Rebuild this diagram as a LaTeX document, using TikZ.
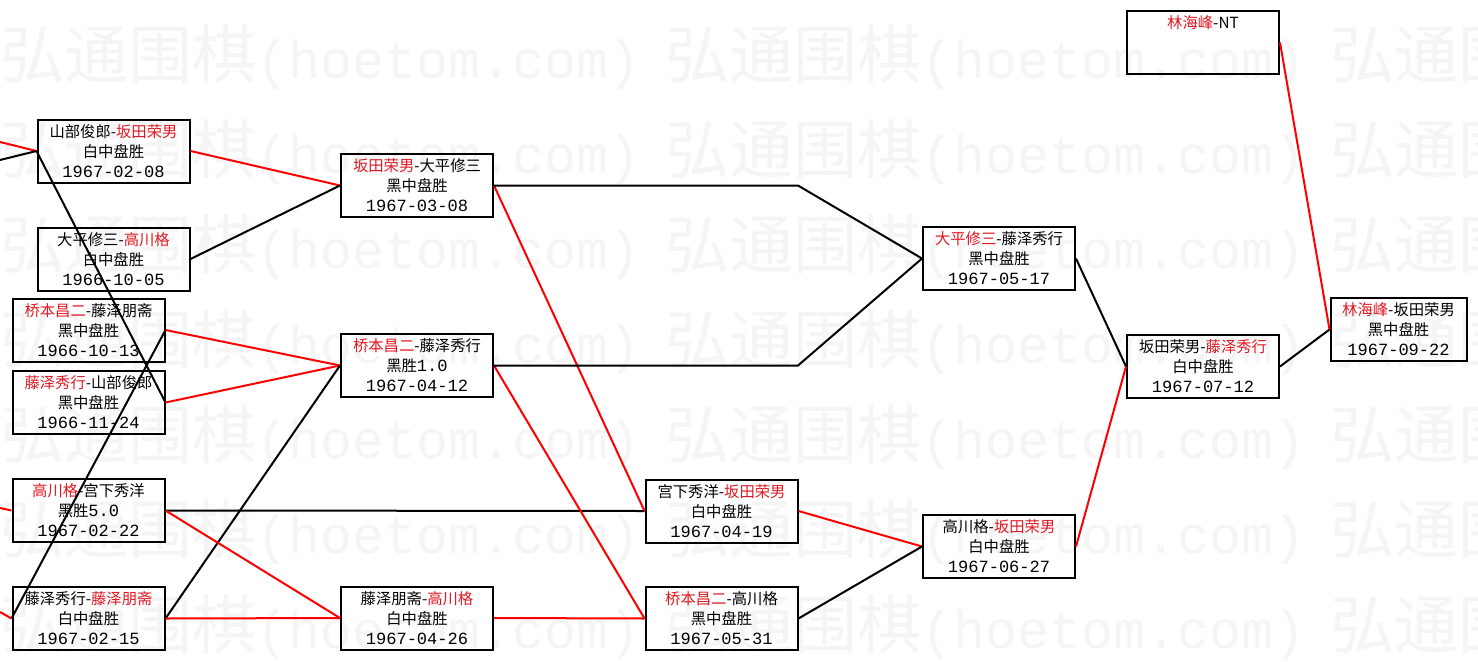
\documentclass[tikz,border=0pt]{standalone}
\usepackage{fontspec}
\newfontfamily\cjk{Noto Sans CJK SC}
\newfontfamily\mono{Liberation Mono}
\definecolor{lred}{RGB}{255,0,0}
\definecolor{tred}{RGB}{225,25,35}
\definecolor{wm}{RGB}{245,245,245}
\newcommand\rn[1]{\textcolor{tred}{#1}}
\newcommand\mdate[1]{{\mono\fontsize{12.8}{15}\selectfont #1}}
\begin{document}
\begin{tikzpicture}[x=0.75pt,y=-0.75pt,
  box/.style={draw, line width=1.5pt, minimum width=114pt, minimum height=47.25pt,
    inner sep=0pt, align=center, font=\cjk\fontsize{11.5}{15}\selectfont},
  rl/.style={draw=lred, line width=1.5pt},
  bl/.style={draw=black, line width=1.5pt},
  wmark/.style={text=wm, anchor=west, inner sep=0pt, font=\cjk\fontsize{48}{48}\selectfont}]
\useasboundingbox (0,0) rectangle (1478,661);
\fill[white] (0,0) rectangle (1478,661);
% watermark
\foreach \r/\yy in {1/57,2/152,3/247,4/342,5/437,6/532,7/627}{
  \foreach \c/\xx in {1/0,2/665,3/1330}{
    \node[wmark] (w\r-\c) at (\xx,\yy) {弘通围棋{\mono\fontsize{40}{40}\selectfont(hoetom.com)}};
  }
}
% boxes
\node[box] (B1) at (113.5,151) {山部俊郎-\rn{坂田荣男}\\白中盘胜\\\mdate{1967-02-08}};
\node[box] (B2) at (113.5,259) {大平修三-\rn{高川格}\\白中盘胜\\\mdate{1966-10-05}};
\node[box] (B3) at (88.5,330) {\rn{桥本昌二}-藤泽朋斋\\黑中盘胜\\\mdate{1966-10-13}};
\node[box] (B4) at (88.5,402.5) {\rn{藤泽秀行}-山部俊郎\\黑中盘胜\\\mdate{1966-11-24}};
\node[box] (B5) at (88.5,510.5) {\rn{高川格}-宫下秀洋\\黑胜\mdate{5.0}\\\mdate{1967-02-22}};
\node[box] (B6) at (88.5,618.5) {藤泽秀行-\rn{藤泽朋斋}\\白中盘胜\\\mdate{1967-02-15}};
\node[box] (C1) at (417,185.5) {\rn{坂田荣男}-大平修三\\黑中盘胜\\\mdate{1967-03-08}};
\node[box] (C2) at (417,365.5) {\rn{桥本昌二}-藤泽秀行\\黑胜\mdate{1.0}\\\mdate{1967-04-12}};
\node[box] (C3) at (417,618) {藤泽朋斋-\rn{高川格}\\白中盘胜\\\mdate{1967-04-26}};
\node[box] (D1) at (721.5,511) {宫下秀洋-\rn{坂田荣男}\\白中盘胜\\\mdate{1967-04-19}};
\node[box] (D2) at (721.5,618.5) {\rn{桥本昌二}-高川格\\黑中盘胜\\\mdate{1967-05-31}};
\node[box] (E1) at (999,258.5) {\rn{大平修三}-藤泽秀行\\黑中盘胜\\\mdate{1967-05-17}};
\node[box] (E2) at (999,546.5) {高川格-\rn{坂田荣男}\\白中盘胜\\\mdate{1967-06-27}};
\node[box] (F1) at (1203,42.5) {\rn{林海峰}-NT\\\mbox{}\\\mbox{}};
\node[box] (F2) at (1203,366.5) {坂田荣男-\rn{藤泽秀行}\\白中盘胜\\\mdate{1967-07-12}};
\node[box, minimum width=102pt] (G1) at (1398.5,329.5) {\rn{林海峰}-坂田荣男\\黑中盘胜\\\mdate{1967-09-22}};
% free ends and joints
\coordinate (s1) at (0,142);
\coordinate (s2) at (0,160);
\coordinate (s3) at (0,508);
\coordinate (s4) at (0,612);
\coordinate (j1) at (798,185.5);
\coordinate (j2) at (798,365.5);
% connectors
\draw[rl] (s1) -- (B1.west);
\draw[bl] (s2) -- (B1.west);
\draw[bl] (B1.west) -- (B4.east);
\draw[rl] (B1.east) -- (C1.west);
\draw[bl] (B2.east) -- (C1.west);
\draw[rl] (B3.east) -- (C2.west);
\draw[rl] (B4.east) -- (C2.west);
\draw[bl] (B3.east) -- (B6.west);
\draw[bl] (B6.east) -- (C2.west);
\draw[rl] (s3) -- (B5.west);
\draw[rl] (s4) -- (B6.west);
\draw[bl] (B5.east) -- (D1.west);
\draw[rl] (B5.east) -- (C3.west);
\draw[rl] (B6.east) -- (C3.west);
\draw[rl] (C3.east) -- (D2.west);
\draw[rl] (C1.east) -- (D1.west);
\draw[rl] (C2.east) -- (D2.west);
\draw[bl] (C1.east) -- (j1) -- (E1.west);
\draw[bl] (C2.east) -- (j2) -- (E1.west);
\draw[rl] (D1.east) -- (E2.west);
\draw[bl] (D2.east) -- (E2.west);
\draw[bl] (E1.east) -- (F2.west);
\draw[rl] (E2.east) -- (F2.west);
\draw[bl] (F2.east) -- (G1.west);
\draw[rl] (F1.east) -- (G1.west);
\end{tikzpicture}
\end{document}
